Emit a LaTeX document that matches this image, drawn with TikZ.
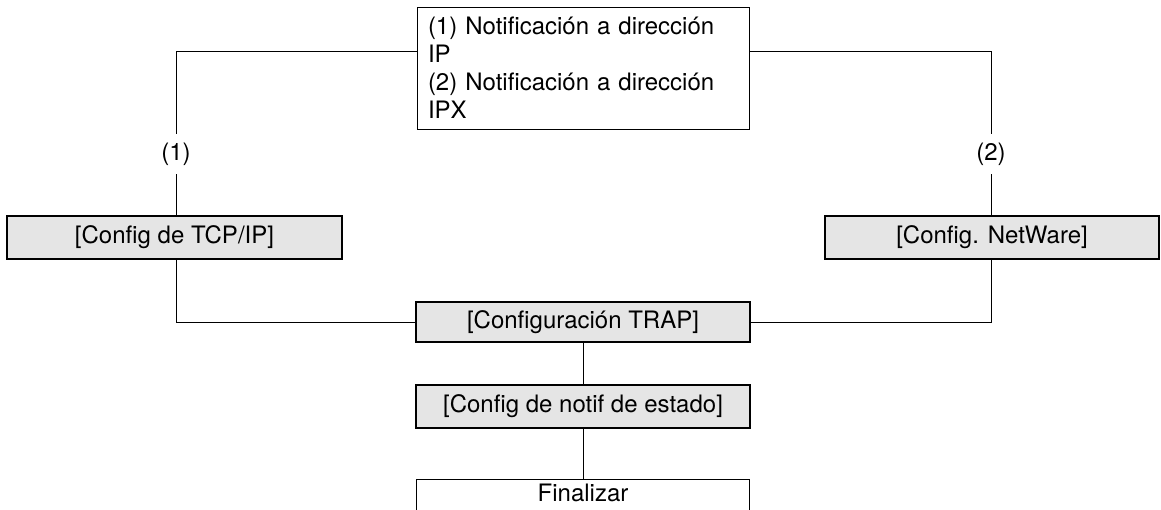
\documentclass[tikz,border=0pt]{standalone}
\usepackage{fontspec}
\setmainfont{TeX Gyre Heros}
\begin{document}
\begin{tikzpicture}[x=1pt,y=-1pt,
  every node/.style={font=\fontsize{24}{28}\selectfont, inner sep=0pt},
  graybox/.style={draw=black, line width=2.8pt, fill=black!10, minimum width=334pt, minimum height=42pt},
  whitebox/.style={draw=black, line width=1pt},
  conn/.style={draw=black, line width=1pt},
  lbl/.style={minimum height=40pt}]
\useasboundingbox (0,0) rectangle (1161,509);
\clip (0,0) rectangle (1161,509);
\node[whitebox, minimum width=332pt, minimum height=122pt, text width=310pt, align=left, inner xsep=11pt] (top) at (583,68)
  {(1) Notificación a dirección\\IP\\(2) Notificación a dirección\\IPX};
\node[graybox, minimum width=335pt, minimum height=43pt] (tcp) at (174.5,237.5) {[Config de TCP/IP]};
\node[graybox, minimum height=43pt] (nw) at (992,237.5) {[Config. NetWare]};
\node[graybox, minimum height=40pt] (trap) at (583,322) {[Configuración TRAP]};
\node[graybox, minimum height=43pt] (notif) at (583,406.5) {[Config de notif de estado]};
\node[minimum width=332pt, minimum height=26pt] (fin) at (583,493) {Finalizar};
\node[lbl] (l1) at (176,154) {(1)};
\node[lbl] (l2) at (991,154) {(2)};
\coordinate (c1) at (176,51);
\coordinate (c2) at (991,51);
\coordinate (c3) at (176,322);
\coordinate (c4) at (991,322);
% connectors
\draw[conn] (top.west |- c1) -- (c1) -- (l1.north);
\draw[conn] (l1.south) -- (tcp.north -| l1);
\draw[conn] (tcp.south -| c3) -- (c3) -- (trap.west);
\draw[conn] (top.east |- c2) -- (c2) -- (l2.north);
\draw[conn] (l2.south) -- (nw.north -| l2);
\draw[conn] (nw.south -| c4) -- (c4) -- (trap.east);
\draw[conn] (trap.south) -- (notif.north);
\draw[conn] (notif.south) -- (fin.north);
\draw[whitebox] ([yshift=-30pt]fin.south west) -- (fin.north west) -- (fin.north east) -- ([yshift=-30pt]fin.south east);
\end{tikzpicture}
\end{document}
